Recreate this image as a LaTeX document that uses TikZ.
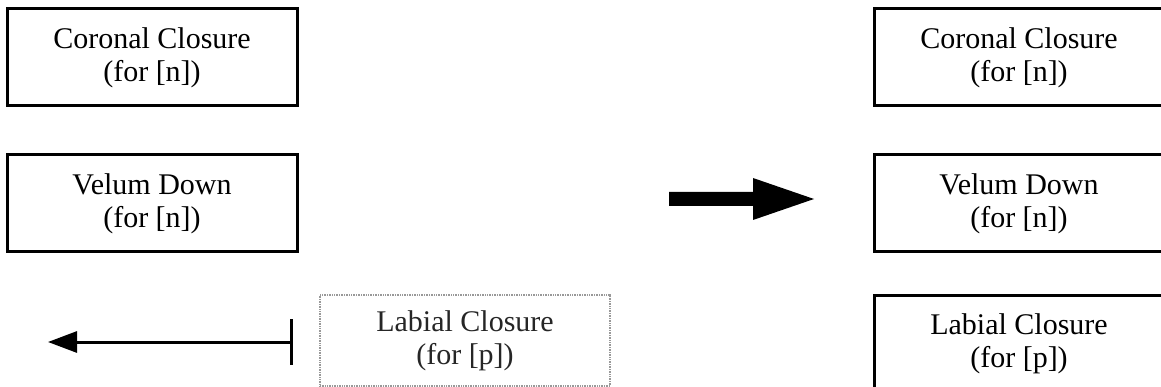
\documentclass[tikz,border=0pt]{standalone}
\usepackage{fontspec}
\setmainfont{Liberation Serif}
\usetikzlibrary{arrows.meta}
\begin{document}
\begin{tikzpicture}[x=1pt,y=-1pt,
  box/.style={draw, line width=3pt, minimum width=290pt, minimum height=97pt,
    align=center, inner sep=0pt, font=\fontsize{30}{33}\selectfont},
  faded/.style={box, draw=black!40, line width=2pt, dash pattern=on 1pt off 0.7pt,
    minimum height=91pt, text=black!85},
  thin arrow/.style={line width=3pt, arrows={Bar[width=46pt]-Triangle[length=29pt,width=21pt]}}]
\useasboundingbox (0,0) rectangle (1161,387);
\clip (0,0) rectangle (1161,387);

% left column: gestures before the change
\node[box] (corL) at (152,57.5) {Coronal Closure\\(for [n])};
\node[box] (velL) at (152,203.5) {Velum Down\\(for [n])};
\node[faded] (labL) at (465,340.5) {Labial Closure\\(for [p])};

% leftward shift of the labial gesture
\coordinate (barpt) at (293,342);
\coordinate (tippt) at (48,342);
\draw[thin arrow] (barpt) -- (tippt);

% big transition arrow
\fill (669,192) -- (753,192) -- (753,178) -- (814,199) -- (753,220)
  -- (753,206) -- (669,206) -- cycle;

% right column: gestures after the change
\node[box] (corR) at (1019,57.5) {Coronal Closure\\(for [n])};
\node[box] (velR) at (1019,203.5) {Velum Down\\(for [n])};
\node[box] (labR) at (1019,343.5) {Labial Closure\\(for [p])};
\end{tikzpicture}
\end{document}
